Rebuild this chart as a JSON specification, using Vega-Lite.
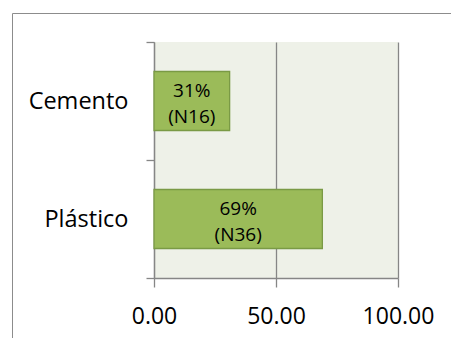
{
  "$schema": "https://vega.github.io/schema/vega-lite/v6.json",
  "autosize": {"type": "none"},
  "padding": {"left": 154, "top": 42, "right": 53, "bottom": 60},
  "width": 244,
  "height": 236,
  "background": "#ffffff",
  "config": {
    "view": {"fill": "#EEF1E8", "stroke": null},
    "font": "Open Sans",
    "axis": {
      "labelFont": "Open Sans",
      "labelColor": "#000000",
      "domainColor": "#868686",
      "tickColor": "#868686",
      "gridColor": "#868686",
      "domainWidth": 1.3,
      "tickWidth": 1.3,
      "gridWidth": 1.3
    }
  },
  "data": {
    "values": [
      {"material": "Cemento", "pct": 31, "label": "31%\n(N16)"},
      {"material": "Plástico", "pct": 69, "label": "69%\n(N36)"}
    ]
  },
  "transform": [{"calculate": "datum.pct / 2", "as": "mid"}],
  "encoding": {
    "y": {
      "field": "material",
      "type": "nominal",
      "sort": ["Cemento", "Plástico"],
      "scale": {"paddingInner": 0, "paddingOuter": 0},
      "axis": {
        "title": null,
        "tickBand": "extent",
        "tickSize": 8,
        "labelFontSize": 23.5,
        "labelPadding": 18,
        "grid": false
      }
    }
  },
  "layer": [
    {
      "mark": {"type": "bar", "size": 59, "stroke": "#7A9A45", "strokeWidth": 1.3, "opacity": 1},
      "encoding": {
        "x": {
          "field": "pct",
          "type": "quantitative",
          "scale": {"domain": [0, 100], "nice": false},
          "axis": {
            "title": null,
            "values": [0, 50, 100],
            "format": ".2f",
            "tickSize": 9,
            "labelFontSize": 23,
            "labelPadding": 18,
            "labelFlush": false,
            "labelOverlap": false,
            "grid": true,
            "domain": true
          }
        },
        "color": {
          "datum": "frame",
          "type": "nominal",
          "scale": {"range": ["#9BBB59"]},
          "legend": {
            "orient": "none",
            "legendX": -142,
            "legendY": -29,
            "title": null,
            "padding": 300,
            "strokeColor": "#8C8C8C",
            "symbolOpacity": 0,
            "labelOpacity": 0
          }
        }
      }
    },
    {
      "mark": {"type": "text", "fontSize": 19, "font": "Open Sans", "color": "#000000", "lineBreak": "\n", "lineHeight": 26, "baseline": "middle", "align": "center", "dy": -10},
      "encoding": {
        "x": {"field": "mid", "type": "quantitative"},
        "text": {"field": "label"}
      }
    }
  ]
}
